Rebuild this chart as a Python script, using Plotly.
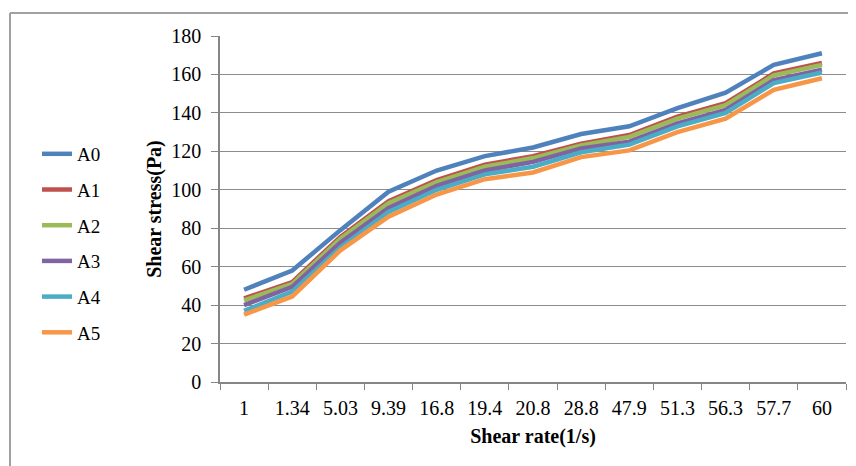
import plotly.graph_objects as go

categories = ["1", "1.34", "5.03", "9.39", "16.8", "19.4", "20.8", "28.8", "47.9", "51.3", "56.3", "57.7", "60"]
A0 = [48, 58, 79, 99, 110, 117.5, 122, 129, 133, 142.5, 150.5, 165, 171]
A1 = [43.5, 52, 75.5, 94, 105, 113, 117.5, 124, 128.5, 138, 145, 160.5, 166]
A2 = [42.5, 51, 74.5, 93, 104, 112, 116.5, 123, 127.5, 137, 144, 159.5, 165]
A3 = [40, 49.5, 72.5, 90.5, 102, 110, 114.5, 121.5, 125, 134.5, 141.5, 157, 162.5]
A4 = [37, 47, 70, 88.5, 100, 108, 112, 119.5, 123.5, 133, 140, 155.5, 161]
A5 = [35, 44.5, 68.5, 86, 97.5, 105.5, 109, 117, 120.5, 130, 137, 152, 158]
y_ticks = [0, 20, 40, 60, 80, 100, 120, 140, 160, 180]

series = [("A0", A0, "#4F81BD"), ("A1", A1, "#C0504D"), ("A2", A2, "#9BBB59"),
          ("A3", A3, "#8064A2"), ("A4", A4, "#4BACC6"), ("A5", A5, "#F79646")]

FONT = "Liberation Serif, Times New Roman, serif"
W, H = 848, 458
L, R, T, B = 212, 10, 28, 84
PW, PH = W - L - R, H - T - B

fig = go.Figure()
for name, vals, col in series:
    fig.add_trace(go.Scatter(x=categories, y=vals, mode="lines", name=name,
                             legendgroup=name,
                             line=dict(color=col, width=4.5)))

left_frame = (2 - L) / PW
top_frame = (T + PH - 5) / PH
bottom_frame = (T + PH - H) / PH

fig.update_layout(
    width=W, height=H,
    margin=dict(l=L, r=R, t=T, b=B, autoexpand=False),
    paper_bgcolor="white", plot_bgcolor="white",
    font=dict(family=FONT, size=20, color="black"),
    showlegend=True,
    legend=dict(x=(29 - L) / PW, y=0.714, xanchor="left", yanchor="top",
                font=dict(family=FONT, size=19, color="black"),
                tracegroupgap=8, traceorder="grouped",
                bgcolor="rgba(0,0,0,0)"),
    xaxis=dict(type="category", showgrid=False, showline=True, linecolor="#868686",
               linewidth=1.5, ticks="outside", ticklen=6, tickcolor="#868686",
               tickson="boundaries", tickfont=dict(family=FONT, size=20),
               ticklabelstandoff=7,
               title=dict(text="<b>Shear rate(1/s)</b>", font=dict(family=FONT, size=20), standoff=11),
               range=[-0.5, 12.5], fixedrange=True),
    yaxis=dict(range=[0, 180], tickvals=y_ticks, showgrid=True, gridcolor="#8c8c8c",
               gridwidth=1.2, showline=True, linecolor="#868686", linewidth=1.5,
               ticks="outside", ticklen=7, tickcolor="#868686",
               tickfont=dict(family=FONT, size=20), ticklabelstandoff=6,
               title=dict(text="<b>Shear stress(Pa)</b>", font=dict(family=FONT, size=20), standoff=4),
               zeroline=False, fixedrange=True),
    shapes=[
        dict(type="line", xref="paper", yref="paper", x0=left_frame, x1=1.03,
             y0=top_frame, y1=top_frame, line=dict(color="#a0a0a0", width=2)),
        dict(type="line", xref="paper", yref="paper", x0=left_frame, x1=left_frame,
             y0=bottom_frame, y1=top_frame, line=dict(color="#a0a0a0", width=2)),
    ],
)

fig.write_html("out.html")
